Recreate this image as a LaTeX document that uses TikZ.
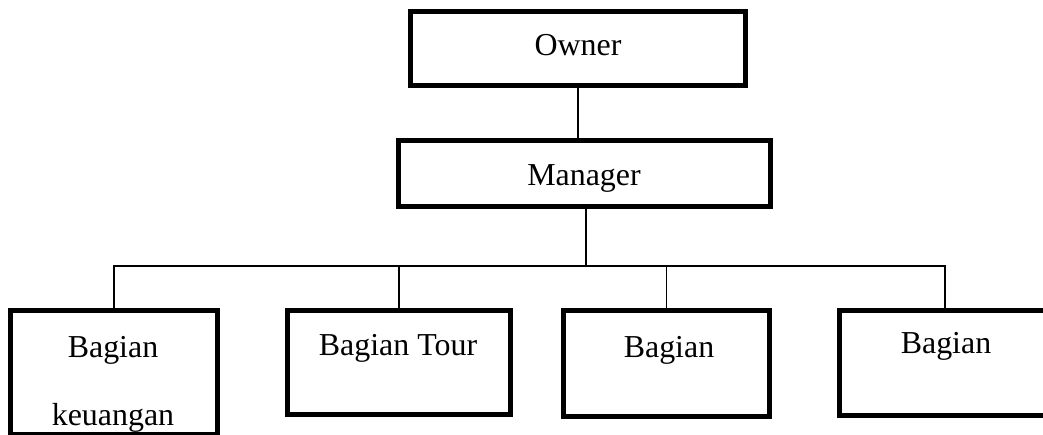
\documentclass[tikz,border=0pt]{standalone}
\usepackage{fontspec}
\setmainfont{Liberation Serif}
\usepackage{tikz}
\tikzset{
	kotak/.style={draw, line width=1.25mm, rectangle, inner sep=0pt},
	garis/.style={line width=0.4mm},
	teks/.style={anchor=base, inner sep=0pt, font=\fontsize{22.7}{27}\selectfont}
}

\begin{document}
\begin{tikzpicture}[x=0.025cm, y=-0.025cm]
			%%%%% START %%%%%
			
			\useasboundingbox (0, 0) rectangle (1043, 434);
			\clip (0, 0) rectangle (1043, 434);
			
			\node[kotak, minimum width=8.375cm, minimum height=1.85cm] (owner) at (578, 48.5) {};
			\node[kotak, minimum width=9.3cm, minimum height=1.65cm] (manager) at (584.5, 173.5) {};
			
			\node[kotak, minimum width=5.175cm, minimum height=3.1cm] (keu) at (114, 372.5) {};
			\node[kotak, minimum width=5.575cm, minimum height=2.6cm] (tour) at (399, 362.5) {};
			\node[kotak, minimum width=5.15cm, minimum height=2.65cm] (bag3) at (666.5, 363.5) {};
			\node[kotak, minimum width=5.25cm, minimum height=2.625cm] (bag4) at (944.75, 363) {};
			
			\node[teks] (towner) at (578, 55) {Owner};
			\node[teks] (tmanager) at (584, 185) {Manager};
			\node[teks] (tkeu1) at (113, 357) {Bagian};
			\node[teks] (tkeu2) at (113, 425) {keuangan};
			\node[teks] (ttour) at (398, 355) {Bagian Tour};
			\node[teks] (tbag3) at (669, 357) {Bagian};
			\node[teks] (tbag4) at (946, 353) {Bagian};
			
			\coordinate (bus) at (586, 266);
			
			\draw[garis] (owner.south) -- (owner.south |- manager.north);
			\draw[garis] (manager.south -| bus) -- (bus);
			\draw[garis] (bus) -| (keu.north);
			\draw[garis] (bus) -| (tour.north);
			\draw[garis] (bus) -| (bag3.north);
			\draw[garis] (bus) -| (bag4.north);
			
			%%%%% END %%%%%
		\end{tikzpicture}
\end{document}
